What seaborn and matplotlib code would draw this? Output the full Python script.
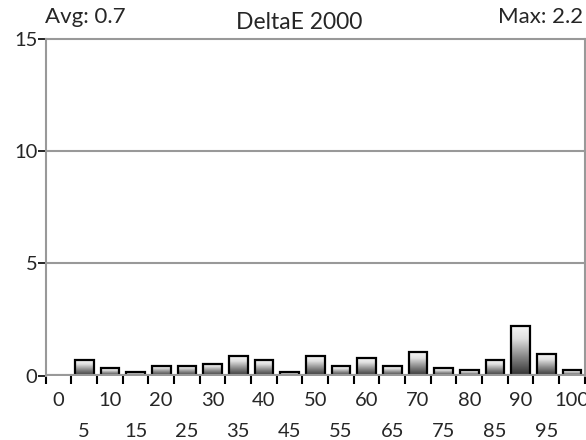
import numpy as np
import matplotlib
matplotlib.use("Agg")
import matplotlib.pyplot as plt
from matplotlib.colors import LinearSegmentedColormap
import seaborn as sns

# patch positions (percent) and DeltaE 2000 for each
steps = [0, 5, 10, 15, 20, 25, 30, 35, 40, 45, 50,
         55, 60, 65, 70, 75, 80, 85, 90, 95, 100]
delta_e = [0.0, 0.68, 0.34, 0.17, 0.45, 0.45, 0.54, 0.89, 0.70, 0.17, 0.89,
           0.43, 0.79, 0.43, 1.06, 0.34, 0.25, 0.70, 2.2, 0.97, 0.25]
avg_text = "Avg: 0.7"
max_text = "Max: 2.2"
title = "DeltaE 2000"
yticks = [0, 5, 10, 15]

sns.set_style("white")
plt.rcParams['font.family'] = ['Lato', 'DejaVu Sans']
fs = 14.5

fig = plt.figure(figsize=(5.86, 4.4), dpi=100)
ax = fig.add_axes([0.078, 0.146, 0.92, 0.766])

sns.barplot(x=steps, y=delta_e, native_scale=True, width=0.73,
            edgecolor="black", linewidth=1.6, ax=ax, zorder=3)

# gradient fill inside each bar: dark bottom, light top
grad = LinearSegmentedColormap.from_list(
    "bar", [(0, "#2e2e2e"), (0.4, "#8a8a8a"), (0.75, "#e0e0e0"), (1, "#f6f6f6")])
g = np.linspace(0, 1, 256).reshape(-1, 1)
for p in ax.patches:
    x0, y0 = p.get_x(), p.get_y()
    w, h = p.get_width(), p.get_height()
    if h <= 0:
        continue
    im = ax.imshow(g, cmap=grad, origin="lower", aspect="auto",
                   extent=[x0, x0 + w, y0, y0 + h], zorder=2.5)
    im.set_clip_path(p)
    p.set_facecolor("none")

ax.set_xlim(-2.5, 102.5)
ax.set_ylim(0, 15)

# grid / frame
for v in yticks[1:-1]:
    ax.axhline(v, color="#999999", lw=1.5, zorder=1)
ax.axhline(0, color="#999999", lw=3, zorder=4)
for s in ax.spines.values():
    s.set_color("#999999")
    s.set_linewidth(1.5)
ax.spines["bottom"].set_visible(False)

ax.set_yticks(yticks)
ax.tick_params(axis="y", left=True, length=6, width=1.2, color="black",
               labelsize=fs, pad=0)

major = steps[0::2]
minor = steps[1::2]
ax.set_xticks(major)
ax.set_xticklabels([str(v) for v in major])
ax.set_xticks(minor, minor=True)
ax.set_xticklabels([str(v) for v in minor], minor=True)
ax.tick_params(axis="x", which="major", bottom=True, length=0, labelsize=fs, pad=12)
ax.tick_params(axis="x", which="minor", bottom=True, length=0, labelsize=fs, pad=34)

# tick marks at the patch boundaries
edges = [s - 2.5 for s in steps] + [steps[-1] + 2.5]
sec = ax.secondary_xaxis("bottom")
sec.set_xticks(edges)
sec.set_xticklabels([])
sec.tick_params(length=6, width=1.5, color="black", direction="out")
sec.spines["bottom"].set_visible(False)

fig.text(0.077, 0.962, avg_text, fontsize=16, ha="left", va="center")
fig.text(0.511, 0.949, title, fontsize=16.5, ha="center", va="center")
fig.text(0.995, 0.962, max_text, fontsize=16, ha="right", va="center")

fig.savefig("out.png", dpi=100)
